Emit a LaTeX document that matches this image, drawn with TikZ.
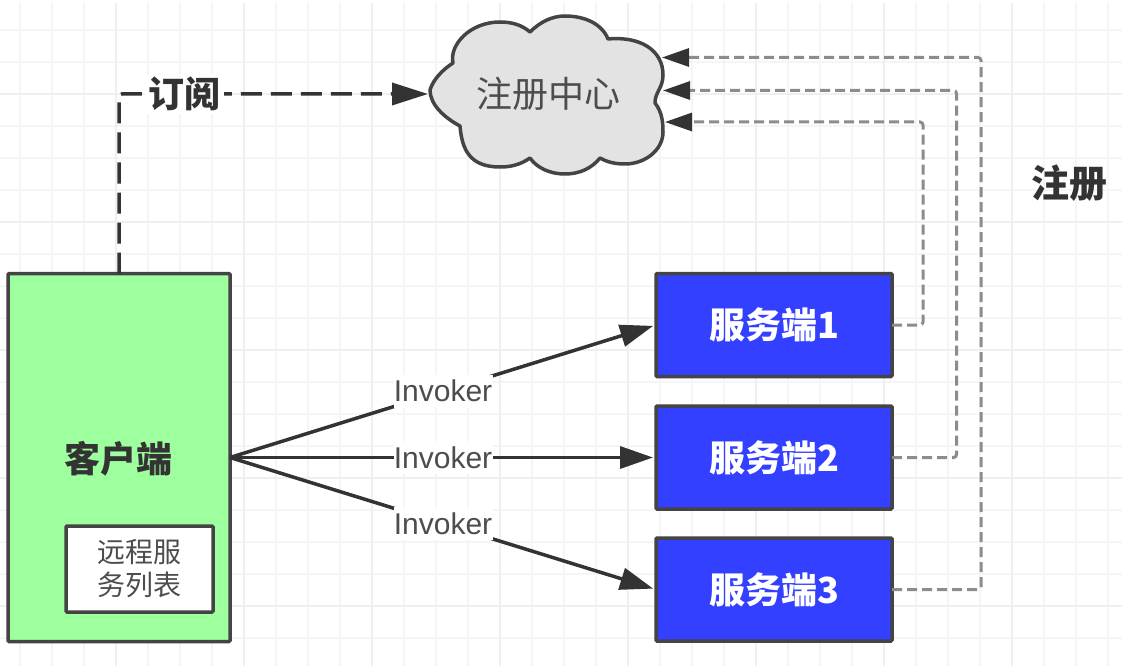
\documentclass[tikz,border=0pt]{standalone}
\usepackage{fontspec}
\setmainfont{Noto Sans CJK SC}
\newfontfamily\latinfont{Liberation Sans}
\usetikzlibrary{arrows.meta}
\definecolor{dk}{HTML}{333333}
\definecolor{edge}{HTML}{444444}
\definecolor{gr}{HTML}{8C8C8C}
\definecolor{soft}{HTML}{4D4D4D}
\definecolor{gmin}{HTML}{F5F5F5}
\definecolor{gmaj}{HTML}{EFEFEF}
\definecolor{cloudfill}{HTML}{E3E3E3}
\definecolor{clientfill}{HTML}{9DFF9D}
\definecolor{srvfill}{HTML}{3340FF}
\newcommand{\fs}[1]{\fontsize{#1}{#1}\selectfont}
\tikzset{
  boxbase/.style={draw=edge,line width=3.5pt,inner sep=0pt,outer sep=0pt,align=center,rounded corners=1pt},
  srvbox/.style={boxbase,fill=srvfill,text=white,minimum width=236pt,minimum height=103pt,font=\fs{36}\bfseries},
  flow/.style={dk,line width=3.5pt,shorten >=3pt,-{Triangle[length=33pt,width=22pt]}},
  sub/.style={dk,line width=3.5pt,dash pattern=on 21pt off 9pt,rounded corners=3pt,-{Triangle[length=36pt,width=22pt]}},
  reg/.style={gr,line width=3pt,dash pattern=on 10pt off 5pt,rounded corners=3pt,-{Triangle[length=27pt,width=18pt,color=dk]}},
  invlabel/.style={fill=white,inner sep=0pt,minimum width=99pt,minimum height=33pt,text=soft,font=\latinfont\fs{30}},
}
\begin{document}
\begin{tikzpicture}[x=1pt,y=-1pt]
\useasboundingbox (0,0) rectangle (1122,666);
\fill[white] (0,0) rectangle (1122,666);
% grid
\foreach \k in {0,...,34}{
  \pgfmathsetmacro{\gx}{20+32*\k}
  \draw[gmin,line width=1.6pt] (\gx,3) -- (\gx,666);
}
\foreach \k in {0,...,19}{
  \pgfmathsetmacro{\gy}{30+32*\k}
  \draw[gmin,line width=1.6pt] (0,\gy) -- (1122,\gy);
}
\foreach \k in {0,...,7}{
  \pgfmathsetmacro{\gx}{116+128*\k}
  \draw[gmaj,line width=2pt] (\gx,3) -- (\gx,666);
}
\foreach \k in {0,...,4}{
  \pgfmathsetmacro{\gy}{94+128*\k}
  \draw[gmaj,line width=2pt] (0,\gy) -- (1122,\gy);
}
% cloud
\draw[edge,fill=cloudfill,line width=3.5pt,line join=round]
  (430,90) .. controls (433,80) and (442,70) .. (453,63)
  .. controls (449,45) and (470,22) .. (500,22)
  .. controls (512,22) and (522,25) .. (530,32)
  .. controls (540,22) and (552,16) .. (565,16)
  .. controls (585,16) and (602,24) .. (608,39)
  .. controls (640,36) and (663,50) .. (663,75)
  .. controls (663,88) and (655,92) .. (655,103)
  .. controls (662,112) and (663,122) .. (663,132)
  .. controls (663,150) and (645,164) .. (625,164)
  .. controls (615,164) and (607,162) .. (600,158)
  .. controls (592,168) and (580,174) .. (565,174)
  .. controls (550,174) and (537,168) .. (530,158)
  .. controls (520,165) and (510,167) .. (500,167)
  .. controls (470,167) and (462,150) .. (460,126)
  .. controls (445,118) and (430,105) .. (430,90) -- cycle;
\coordinate (cloudIn) at (428,94);
\coordinate (cloudA) at (662,57.5);
\coordinate (cloudB) at (663,90.5);
\coordinate (cloudC) at (665,122);
\coordinate (cornerA) at (981,57.5);
\coordinate (cornerB) at (956.5,90.5);
\coordinate (cornerC) at (923,122);
\node[text=soft,font=\fs{36}] (cloudtext) at (548,94) {注册中心};
% boxes
\node[boxbase,fill=clientfill,minimum width=222pt,minimum height=368pt] (client) at (119,457.5) {};
\node[text=dk,font=\fs{36}\bfseries] (clienttext) at (118,459) {客户端};
\node[boxbase,fill=white,minimum width=147pt,minimum height=86pt,text=soft,font=\fontsize{28}{33}\selectfont] (list) at (139.5,569)
  {远程服\\务列表};
\node[srvbox] (srv1) at (774,325) {服务端1};
\node[srvbox] (srv2) at (774,457.5) {服务端2};
\node[srvbox] (srv3) at (774,589.5) {服务端3};
% connectors
\draw[sub] (client.north) |- (cloudIn);
\node[fill=white,inner sep=0pt,minimum width=79pt,minimum height=40pt,text=dk,font=\fs{36}\bfseries] (subtext) at (184.5,94) {订阅};
\draw[flow] (client.east) -- node[invlabel] (inv1) {Invoker} (srv1.west);
\draw[flow] (client.east) -- node[invlabel] (inv2) {Invoker} (srv2.west);
\draw[flow] (client.east) -- node[invlabel] (inv3) {Invoker} (srv3.west);
\draw[reg] (srv1.east) -| (cornerC) -- (cloudC);
\draw[reg] (srv2.east) -| (cornerB) -- (cloudB);
\draw[reg] (srv3.east) -| (cornerA) -- (cloudA);
\node[text=dk,font=\fs{38}\bfseries] (regtext) at (1069.5,183) {注册};
\end{tikzpicture}
\end{document}
